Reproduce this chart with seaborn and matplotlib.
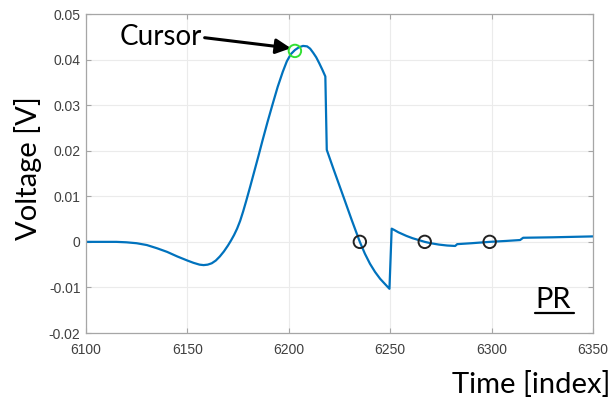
import matplotlib
matplotlib.use("Agg")
import matplotlib.pyplot as plt
import seaborn as sns
import pandas as pd
from matplotlib.lines import Line2D

# Sampled trace: time index and measured voltage
time_index = [6100, 6105, 6110, 6115, 6120, 6125, 6130, 6135, 6140, 6145, 6150,
              6153, 6156, 6158, 6160, 6162, 6164, 6166, 6168, 6170, 6171.5, 6173,
              6174.5, 6176, 6177.5, 6179, 6181, 6183, 6185, 6187, 6189.5, 6192,
              6194.5, 6197, 6199, 6201, 6203, 6205, 6207, 6209, 6210.5, 6212,
              6213.5, 6215, 6216.5, 6218, 6218.7, 6222, 6227, 6231, 6235, 6237.5,
              6240, 6242.5, 6245, 6247.5, 6249.6, 6250.7, 6252, 6254, 6256, 6258,
              6261, 6264, 6267, 6270, 6274, 6278, 6282, 6283, 6290, 6299, 6307,
              6314, 6315.5, 6330, 6350]
voltage = [0.0, 0.0, 0.0, 0.0, -0.0001, -0.0003, -0.0007, -0.0014, -0.0022, -0.0032,
           -0.0041, -0.0046, -0.0050, -0.0051, -0.0050, -0.0047, -0.0041, -0.0032,
           -0.0021, -0.0008, 0.0003, 0.0015, 0.0029, 0.0046, 0.0067, 0.0090,
           0.0122, 0.0155, 0.0188, 0.0222, 0.0263, 0.0302, 0.0340, 0.0373, 0.0396,
           0.0412, 0.0421, 0.0427, 0.0430, 0.0429, 0.0424, 0.0415, 0.0405, 0.0392,
           0.0378, 0.0363, 0.0202, 0.0160, 0.0098, 0.0048, 0.0, -0.0026, -0.0048,
           -0.0066, -0.0081, -0.0093, -0.0103, 0.0029, 0.0026, 0.0021, 0.0017,
           0.0013, 0.0008, 0.0004, 0.0, -0.0003, -0.0006, -0.0008, -0.0009, -0.0005,
           -0.0003, 0.0, 0.0002, 0.0004, 0.0009, 0.0010, 0.0012]

# Zero-crossing markers and cursor position
zero_x = [6235, 6267, 6299]
zero_y = [0.0, 0.0, 0.0]
cursor_x = [6203]
cursor_y = [0.0419]

x_ticks = [6100, 6150, 6200, 6250, 6300, 6350]
y_ticks = [-0.02, -0.01, 0.0, 0.01, 0.02, 0.03, 0.04, 0.05]
y_tick_labels = ["-0.02", "-0.01", "0", "0.01", "0.02", "0.03", "0.04", "0.05"]

sns.set_style("whitegrid", {"grid.color": "#ebebeb", "axes.edgecolor": "#a6a6a6"})
plt.rcParams["font.family"] = ["Liberation Sans", "DejaVu Sans"]

fig = plt.figure(figsize=(6.14, 3.99), dpi=100)
ax = fig.add_axes([0.140, 0.1654, 0.826, 0.7995])

df = pd.DataFrame({"t": time_index, "v": voltage})
sns.lineplot(data=df, x="t", y="v", ax=ax, color="#0072BD", linewidth=1.6,
             sort=False, estimator=None)
sns.scatterplot(x=zero_x, y=zero_y, ax=ax, marker="o", s=80, facecolor="none",
                edgecolor="#222222", linewidth=1.4, zorder=4)
sns.scatterplot(x=cursor_x, y=cursor_y, ax=ax, marker="o", s=80, facecolor="none",
                edgecolor="#33e033", linewidth=1.4, zorder=4)

ax.set_xlim(6100, 6350)
ax.set_ylim(-0.02, 0.05)
ax.set_xticks(x_ticks)
ax.set_xticklabels([str(v) for v in x_ticks])
ax.set_yticks(y_ticks)
ax.set_yticklabels(y_tick_labels)
ax.tick_params(axis="both", which="both", direction="in", length=3.5, width=0.8,
               color="#a6a6a6", labelsize=10, labelcolor="#404040",
               top=True, right=True, bottom=True, left=True)
ax.tick_params(axis="x", pad=7)
ax.tick_params(axis="y", pad=4)
ax.grid(True, color="#ebebeb", linewidth=0.8)
for sp in ax.spines.values():
    sp.set_color("#a6a6a6")
    sp.set_linewidth(0.9)
ax.set_xlabel("")
ax.set_ylabel("")

label_font = ["Lato", "DejaVu Sans"]
fig.text(0.045, 0.578, "Voltage [V]", rotation=90, ha="center", va="center",
         fontsize=21, family=label_font, color="black")
fig.text(0.994, 0.036, "Time [index]", ha="right", va="center",
         fontsize=21, family=label_font, color="black")

# Cursor callout
ax.text(6116.8, 0.0432, "Cursor", ha="left", va="baseline", fontsize=20,
        family=label_font, color="black")
ax.annotate("", xy=(6201.0, 0.0425), xytext=(6158.5, 0.0448),
            arrowprops=dict(arrowstyle="-|>,head_length=0.9,head_width=0.45",
                            color="black", lw=2.2, shrinkA=0, shrinkB=0))

# Underlined panel tag
ax.text(0.886, 0.078, "PR", transform=ax.transAxes, ha="left", va="baseline",
        fontsize=21, family=label_font, color="black")
ax.add_line(Line2D([0.886, 0.962], [0.062, 0.062], transform=ax.transAxes,
                   color="black", linewidth=1.6))

fig.savefig("out.png", dpi=100)
